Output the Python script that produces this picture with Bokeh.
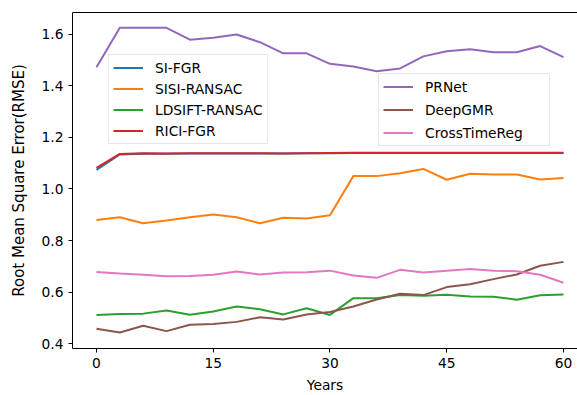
from bokeh.plotting import figure
from bokeh.models import LinearAxis, FixedTicker, Legend, LegendItem, Range1d
from bokeh.embed import file_html
from bokeh.resources import INLINE

years = [0, 3, 6, 9, 12, 15, 18, 21, 24, 27, 30, 33, 36, 39, 42, 45, 48, 51, 54, 57, 60]

si_fgr = [1.074, 1.134, 1.137, 1.137, 1.138, 1.138, 1.138, 1.138, 1.138, 1.139, 1.139, 1.140,
          1.140, 1.140, 1.140, 1.140, 1.140, 1.140, 1.140, 1.140, 1.140]
sisi_ransac = [0.880, 0.890, 0.867, 0.878, 0.890, 0.901, 0.890, 0.867, 0.888, 0.885, 0.898, 1.050,
               1.050, 1.061, 1.078, 1.036, 1.059, 1.056, 1.056, 1.037, 1.043]
ldsift_ransac = [0.511, 0.515, 0.516, 0.528, 0.512, 0.524, 0.544, 0.533, 0.513, 0.537, 0.511, 0.576,
                 0.576, 0.588, 0.585, 0.589, 0.583, 0.582, 0.570, 0.587, 0.590]
rici_fgr = [1.082, 1.136, 1.139, 1.138, 1.139, 1.139, 1.139, 1.139, 1.138, 1.139, 1.140, 1.141,
            1.141, 1.141, 1.141, 1.141, 1.141, 1.141, 1.141, 1.141, 1.141]
prnet = [1.473, 1.626, 1.626, 1.626, 1.580, 1.587, 1.600, 1.570, 1.527, 1.527, 1.486, 1.476,
         1.457, 1.468, 1.515, 1.535, 1.543, 1.531, 1.531, 1.555, 1.512]
deepgmr = [0.457, 0.443, 0.469, 0.448, 0.473, 0.476, 0.484, 0.502, 0.493, 0.513, 0.522, 0.544,
           0.571, 0.593, 0.588, 0.619, 0.630, 0.650, 0.668, 0.702, 0.717]
crosstimereg = [0.678, 0.672, 0.667, 0.661, 0.662, 0.667, 0.680, 0.668, 0.676, 0.677, 0.683, 0.664,
                0.655, 0.686, 0.676, 0.683, 0.689, 0.683, 0.681, 0.667, 0.636]

series_names = ["SI-FGR", "SISI-RANSAC", "LDSIFT-RANSAC", "RICI-FGR", "PRNet", "DeepGMR", "CrossTimeReg"]
series_values = [si_fgr, sisi_ransac, ldsift_ransac, rici_fgr, prnet, deepgmr, crosstimereg]
colors = ["#1f77b4", "#ff7f0e", "#2ca02c", "#d62728", "#9467bd", "#8c564b", "#e377c2"]

x_ticks = [0, 15, 30, 45, 60]
y_ticks = [0.4, 0.6, 0.8, 1.0, 1.2, 1.4, 1.6]
y_tick_labels = ["0.4", "0.6", "0.8", "1.0", "1.2", "1.4", "1.6"]

FONT = "DejaVu Sans"
FS = "13.8px"

p = figure(width=577, height=395, output_backend="svg", toolbar_location=None,
           x_range=Range1d(-3.08, 61.8), y_range=Range1d(0.3806, 1.6854),
           min_border_left=72, min_border_right=0, min_border_top=12, min_border_bottom=47)
p.outline_line_color = None
p.xgrid.visible = False
p.ygrid.visible = False
p.background_fill_color = "white"
p.border_fill_color = "white"

renderers = []
for name, vals, c in zip(series_names, series_values, colors):
    r = p.line(years, vals, line_color=c, line_width=2)
    renderers.append(r)

for ax in (p.xaxis[0], p.yaxis[0]):
    ax.axis_line_color = "black"
    ax.axis_line_width = 1
    ax.major_tick_line_color = "black"
    ax.major_tick_in = 0
    ax.major_tick_out = 4
    ax.minor_tick_line_color = None
    ax.major_label_text_font = FONT
    ax.major_label_text_font_size = FS
    ax.major_label_text_color = "black"
    ax.axis_label_text_font = FONT
    ax.axis_label_text_font_size = FS
    ax.axis_label_text_font_style = "normal"
    ax.axis_label_text_color = "black"

p.xaxis[0].ticker = FixedTicker(ticks=x_ticks)
p.xaxis[0].axis_label = "Years"
p.xaxis[0].major_label_standoff = 5
p.xaxis[0].axis_label_standoff = 6
p.yaxis[0].ticker = FixedTicker(ticks=y_ticks)
p.yaxis[0].major_label_overrides = {t: l for t, l in zip(y_ticks, y_tick_labels)}
p.yaxis[0].axis_label = "Root Mean Square Error(RMSE)"
p.yaxis[0].axis_label_text_font_size = "15px"
p.yaxis[0].major_label_standoff = 5
p.yaxis[0].axis_label_standoff = 11

top = LinearAxis(ticker=FixedTicker(ticks=[]), axis_line_color="black", axis_line_width=1,
                 major_tick_line_color=None, minor_tick_line_color=None,
                 major_label_text_font_size="0px")
p.add_layout(top, "above")

def make_legend(items, loc, spacing, label_width):
    lg = Legend(items=items, location=loc,
                label_text_font=FONT, label_text_font_size="13.8px", label_text_color="black",
                glyph_width=30, glyph_height=17, label_height=17, label_standoff=12,
                label_width=label_width,
                spacing=spacing, padding=4, margin=0,
                border_line_color="#d0d0d0", border_line_width=1,
                background_fill_color="white", background_fill_alpha=0.8)
    return lg

items1 = [LegendItem(label=series_names[i], renderers=[renderers[i]]) for i in range(4)]
items2 = [LegendItem(label=series_names[i], renderers=[renderers[i]]) for i in range(4, 7)]
p.add_layout(make_legend(items1, (36, 204), 4, 20))
p.add_layout(make_legend(items2, (306, 202), 6, 120))

open("out.html", "w").write(file_html(p, INLINE))
